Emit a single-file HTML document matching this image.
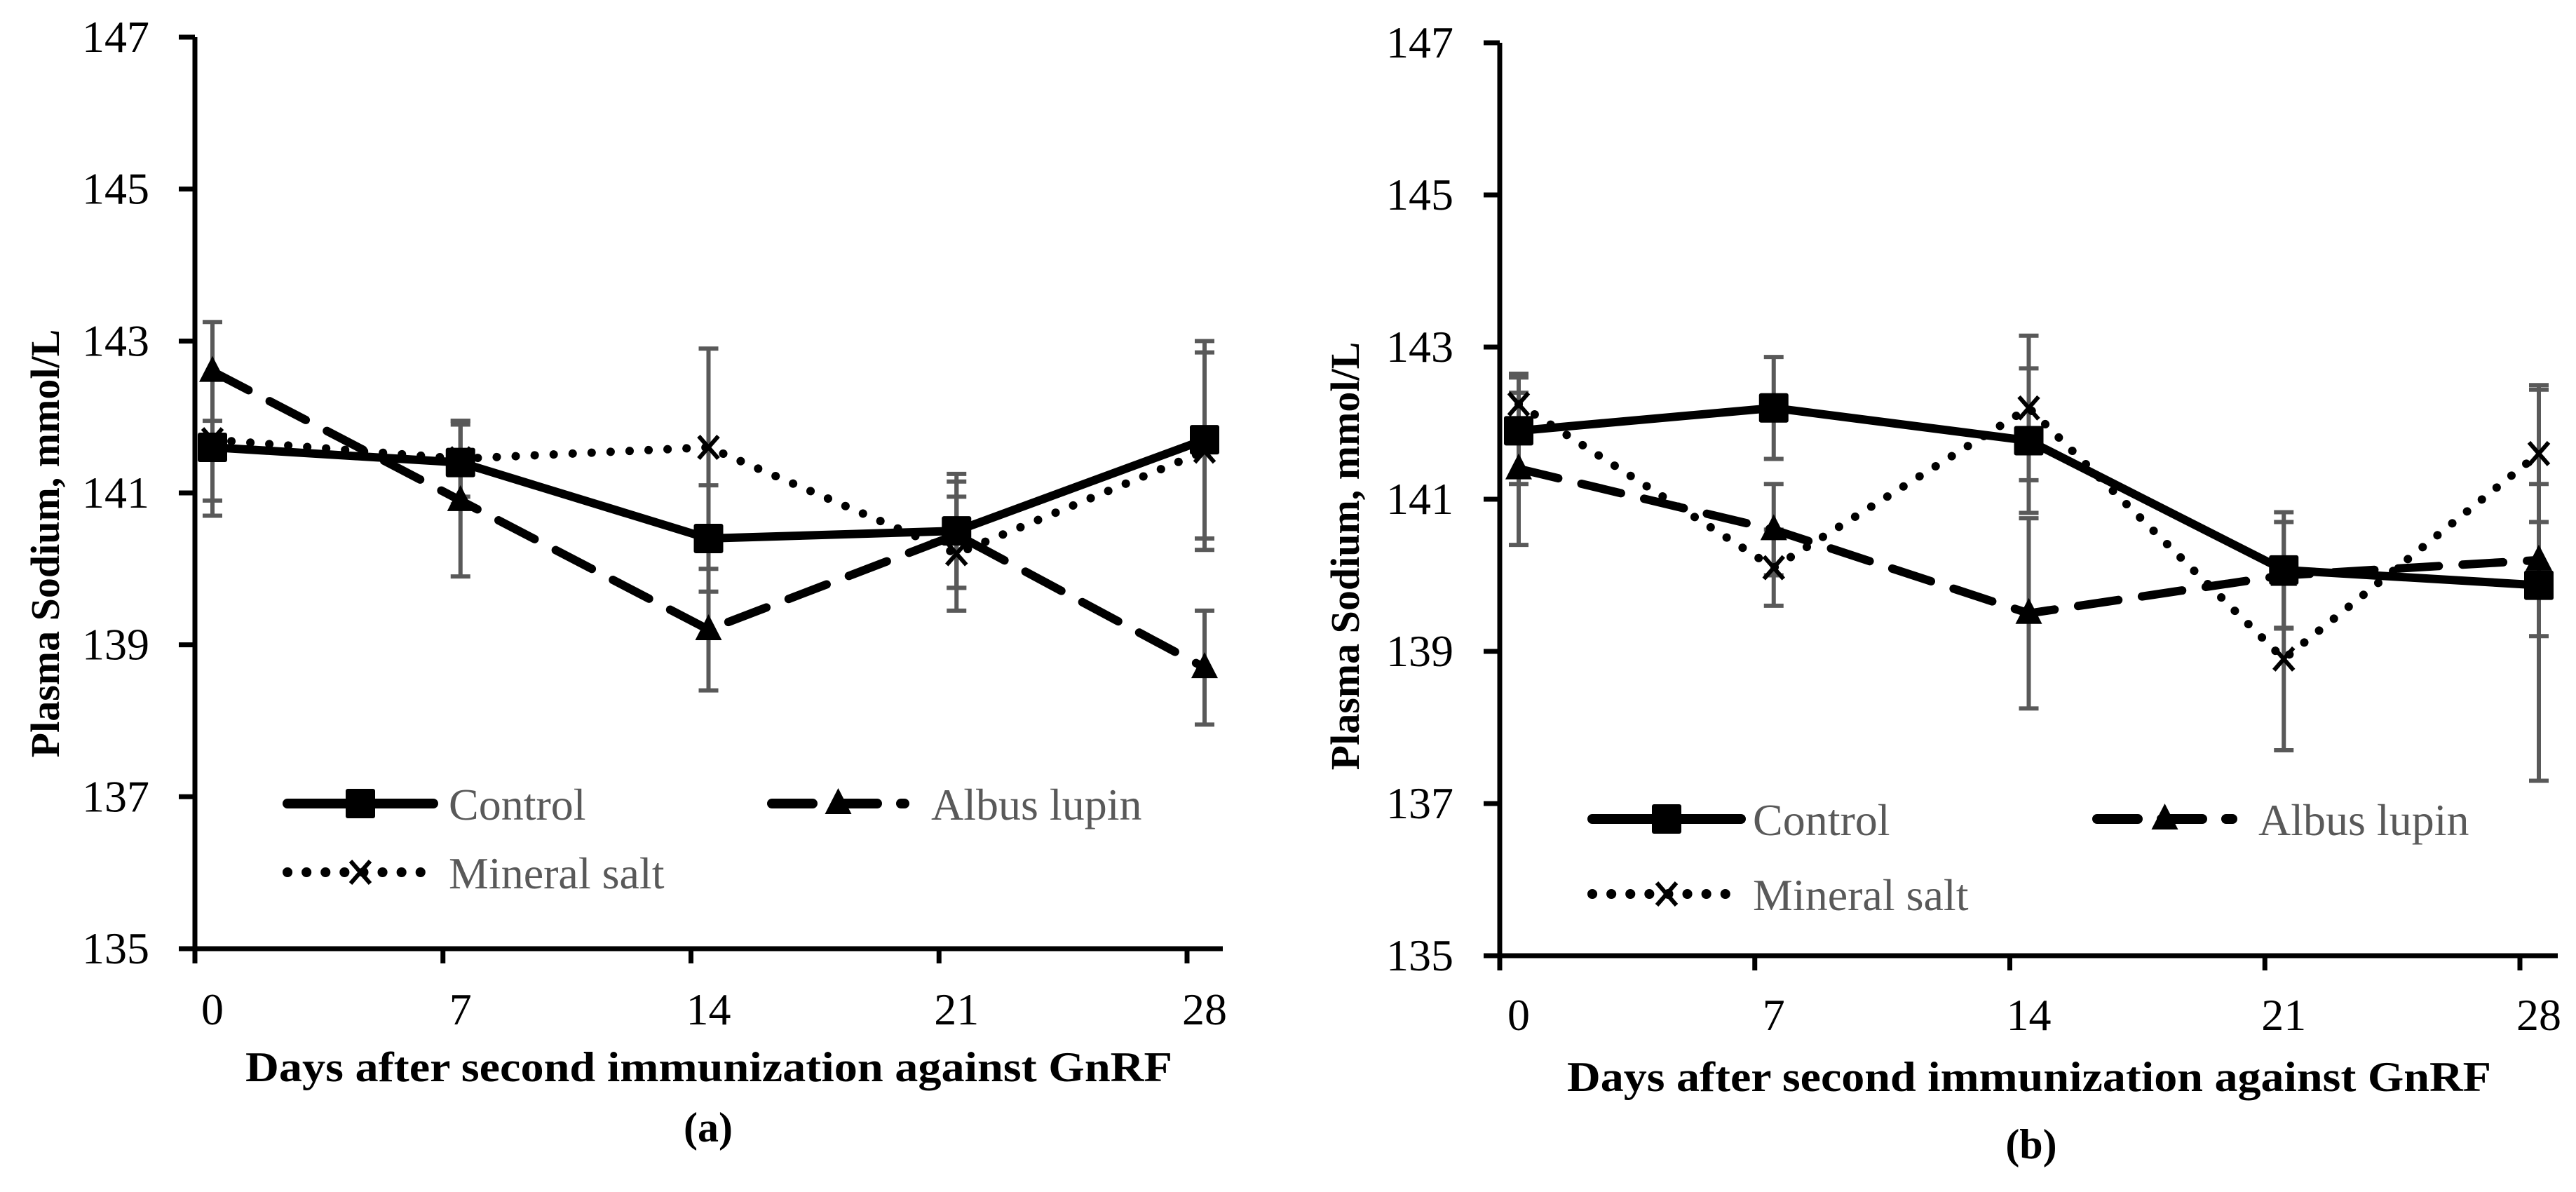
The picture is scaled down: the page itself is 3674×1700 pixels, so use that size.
<!DOCTYPE html>
<html><head><meta charset="utf-8"><style>
html,body{margin:0;padding:0;background:#fff;}
svg{display:block;font-family:"Liberation Serif",serif;}
</style></head><body>
<svg id="fig" width="3674" height="1700" viewBox="0 0 3674 1700" xmlns="http://www.w3.org/2000/svg"></svg>
<script>
const categories = ["0","7","14","21","28"];
const yTicks = [135,137,139,141,143,145,147];
// Panel (a)
const aControl = [141.6,141.4,140.4,140.5,141.7];
const aControlErr = [0.9,0.55,0.7,0.75,1.3];
const aAlbus = [142.6,140.9,139.2,140.45,138.7];
const aAlbusErr = [0.65,1.0,0.8,0.7,0.75];
const aMineral = [141.7,141.45,141.6,140.2,141.55];
const aMineralErr = [0.8,0.5,1.3,0.75,1.3];
// Panel (b)
const bControl = [141.9,142.2,141.77,140.07,139.87];
const bControlErr = [0.7,0.67,0.95,0.76,2.57];
const bAlbus = [141.4,140.6,139.5,140.0,140.2];
const bAlbusErr = [1.0,0.6,1.25,0.7,1.0];
const bMineral = [142.25,140.1,142.2,138.9,141.6];
const bMineralErr = [0.4,0.5,0.95,1.2,0.9];

const NS="http://www.w3.org/2000/svg";
const svg=document.getElementById('fig');
function mk(tag,attrs,parent,text){const e=document.createElementNS(NS,tag);for(const k in attrs)e.setAttribute(k,attrs[k]);if(text!==undefined)e.textContent=text;(parent||svg).appendChild(e);return e;}

function drawPanel(p){
  const g=mk('g',{});
  
  
  const xTick=i=>p.x0+i*p.step;
  const xPt=i=>xTick(i)+p.off;
  const yS=v=>p.yTop+(147-v)*p.unit;
  const yBot=yS(135);
  const ya=mk('line',{x1:p.x0,y1:yS(147),x2:p.x0,y2:yBot+21,stroke:'#000','stroke-width':7},g);
  
  
  const xa=mk('line',{x1:p.x0-23,y1:yBot,x2:p.xEnd,y2:yBot,stroke:'#000','stroke-width':7},g);
  
  
  yTicks.forEach(v=>{
    mk('line',{x1:p.x0-23,y1:yS(v),x2:p.x0,y2:yS(v),stroke:'#000','stroke-width':7},g);
    const t=mk('text',{x:p.yLabR,y:yS(v)+21,'font-size':64,'text-anchor':'end',fill:'#000'},g,String(v));
    
    
  });
  categories.forEach((c,i)=>{
    if(i>0)mk('line',{x1:xTick(i),y1:yBot,x2:xTick(i),y2:yBot+21,stroke:'#000','stroke-width':7},g);
    const t=mk('text',{x:xPt(i),y:yBot+p.xLabDy,'font-size':64,'text-anchor':'middle',fill:'#000'},g,c);
    
    
  });
  const series=[
    {name:'control',v:p.control,e:p.controlErr},
    {name:'albus-lupin',v:p.albus,e:p.albusErr},
    {name:'mineral-salt',v:p.mineral,e:p.mineralErr}];
  series.forEach(s=>{
    s.v.forEach((v,i)=>{
      const x=xPt(i),y1=yS(v+s.e[i]),y2=yS(v-s.e[i]);
      const eb=mk('path',{d:`M${x},${y1}V${y2}M${x-14},${y1}H${x+14}M${x-14},${y2}H${x+14}`,stroke:'#595959','stroke-width':6,fill:'none'},g);
      
      
    });
  });
  const pts=arr=>arr.map((v,i)=>xPt(i)+','+yS(v)).join(' ');
  const lc=mk('polyline',{points:pts(p.control),fill:'none',stroke:'#000','stroke-width':12,'stroke-linejoin':'round'},g);
  
  
  const la=mk('polyline',{points:pts(p.albus),fill:'none',stroke:'#000','stroke-width':12,'stroke-dasharray':'58 34','stroke-linecap':'round'},g);
  
  
  const lm=mk('polyline',{points:pts(p.mineral),fill:'none',stroke:'#000','stroke-width':12,'stroke-dasharray':'0.1 27','stroke-linecap':'round'},g);
  
  
  function square(x,y,par){return mk('rect',{x:x-21,y:y-21,width:42,height:42,rx:3,fill:'#000'},par);}
  function tri(x,y,par){return mk('path',{d:`M${x},${y-22}L${x+19},${y+15}L${x-19},${y+15}Z`,fill:'#000'},par);}
  function cross(x,y,par){return mk('path',{d:`M${x-14},${y-16}L${x+14},${y+16}M${x+14},${y-16}L${x-14},${y+16}`,stroke:'#000','stroke-width':6,fill:'none'},par);}
  p.control.forEach((v,i)=>{const m=square(xPt(i),yS(v),g);
    
    });
  p.albus.forEach((v,i)=>{const m=tri(xPt(i),yS(v),g);
    
    });
  p.mineral.forEach((v,i)=>{const m=cross(xPt(i),yS(v),g);
    
    });
  const L=p.leg;
  const lg=mk('g',{},g);
  
  
  const e1=mk('g',{},lg);
  
  
  mk('line',{x1:L.c1,y1:L.r1,x2:L.c1e,y2:L.r1,stroke:'#000','stroke-width':14,'stroke-linecap':'round'},e1);
  square((L.c1+L.c1e)/2,L.r1,e1);
  mk('text',{x:L.t1,y:L.r1+23,'font-size':64,fill:'#595959'},e1,'Control');
  const e2=mk('g',{},lg);
  
  
  mk('line',{x1:L.c2,y1:L.r1,x2:L.c2e,y2:L.r1,stroke:'#000','stroke-width':14,'stroke-dasharray':'58 34','stroke-linecap':'round'},e2);
  tri((L.c2+L.c2e)/2,L.r1,e2);
  mk('text',{x:L.t2,y:L.r1+23,'font-size':64,fill:'#595959'},e2,'Albus lupin');
  const e3=mk('g',{},lg);
  
  
  mk('line',{x1:L.c1,y1:L.r2,x2:L.c1e-12,y2:L.r2,stroke:'#000','stroke-width':14,'stroke-dasharray':'0.1 27','stroke-linecap':'round'},e3);
  cross((L.c1+L.c1e)/2,L.r2,e3);
  mk('text',{x:L.t1,y:L.r2+23,'font-size':64,fill:'#595959'},e3,'Mineral salt');
  const yt=mk('text',{x:0,y:0,'font-size':58,'font-weight':'bold','text-anchor':'middle',fill:'#000',transform:`translate(${p.ytX},${p.ytY}) rotate(-90)`},g,'Plasma Sodium, mmol/L');
  
  
  const xt=mk('text',{x:p.xtX,y:p.xtY,'font-size':60,'font-weight':'bold',textLength:p.xtW,lengthAdjust:'spacingAndGlyphs',fill:'#000'},g,'Days after second immunization against GnRF');
  
  
  const pl=mk('text',{x:p.plX,y:p.plY,'font-size':60,'font-weight':'bold','text-anchor':'middle',fill:'#000'},g,p.label);
  
  
}

drawPanel({id:'panel-a',x0:278,step:353.75,off:25,xEnd:1744,yTop:53,unit:108.33,yLabR:213,xLabDy:108,
  control:aControl,controlErr:aControlErr,albus:aAlbus,albusErr:aAlbusErr,mineral:aMineral,mineralErr:aMineralErr,
  leg:{c1:410,c1e:618,c2:1101,c2e:1290,t1:640,t2:1328,r1:1146,r2:1244},
  ytX:84,ytY:775,xtX:350,xtY:1542,xtW:1322,plX:1010,plY:1628,label:'(a)'});
drawPanel({id:'panel-b',x0:2139,step:363.75,off:27,xEnd:3648,yTop:61,unit:108.5,yLabR:2073,xLabDy:106,
  control:bControl,controlErr:bControlErr,albus:bAlbus,albusErr:bAlbusErr,mineral:bMineral,mineralErr:bMineralErr,
  leg:{c1:2271,c1e:2483,c2:2991,c2e:3184,t1:2500,t2:3221,r1:1168,r2:1275},
  ytX:1938,ytY:793,xtX:2235,xtY:1556,xtW:1318,plX:2897,plY:1652,label:'(b)'});
</script>
</body></html>
